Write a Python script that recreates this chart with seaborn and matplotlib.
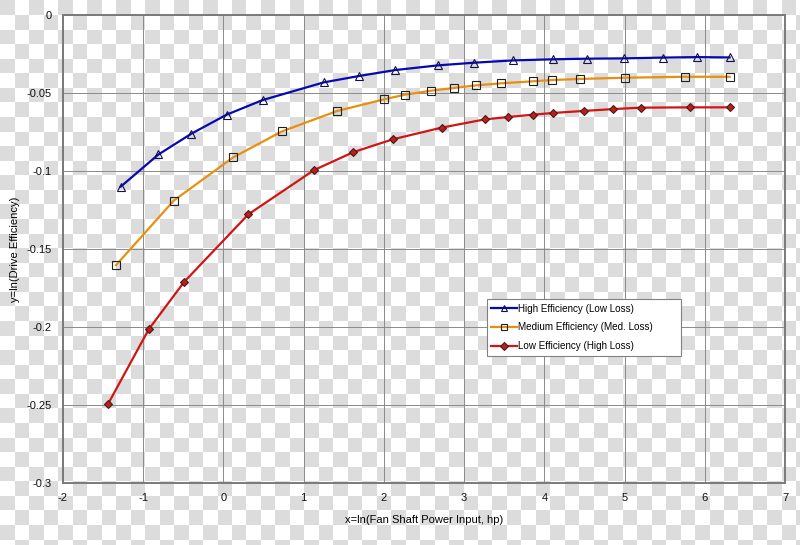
import numpy as np
import pandas as pd
import matplotlib
matplotlib.use("Agg")
import matplotlib.pyplot as plt
from matplotlib.ticker import FuncFormatter
import seaborn as sns

plt.rcParams['font.family'] = ['Liberation Sans', 'DejaVu Sans']
plt.rcParams['axes.unicode_minus'] = False

# data
blue_x = [-1.28, -0.81, -0.40, 0.04, 0.49, 1.25, 1.69, 2.14, 2.67, 3.12, 3.61, 4.11, 4.53, 4.99, 5.48, 5.90, 6.31]
blue_y = [-0.1100, -0.0894, -0.0761, -0.0639, -0.0545, -0.0432, -0.0391, -0.0353, -0.0323, -0.0306,
          -0.0291, -0.0284, -0.0280, -0.0278, -0.0273, -0.0270, -0.0272]
orange_x = [-1.34, -0.62, 0.12, 0.73, 1.42, 2.00, 2.26, 2.59, 2.87, 3.15, 3.46, 3.86, 4.10, 4.44, 5.01, 5.75, 6.31]
orange_y = [-0.1604, -0.1190, -0.0913, -0.0746, -0.0615, -0.0541, -0.0511, -0.0485, -0.0468, -0.0451,
            -0.0438, -0.0425, -0.0417, -0.0410, -0.0402, -0.0396, -0.0396]
red_x = [-1.44, -0.93, -0.49, 0.31, 1.13, 1.62, 2.11, 2.72, 3.26, 3.55, 3.86, 4.11, 4.49, 4.86, 5.20, 5.82, 6.31]
red_y = [-0.2495, -0.2014, -0.1711, -0.1278, -0.0994, -0.0879, -0.0797, -0.0722, -0.0669, -0.0654,
         -0.0639, -0.0628, -0.0615, -0.0603, -0.0594, -0.0592, -0.0592]

labels = ["High Efficiency (Low Loss)", "Medium Efficiency (Med. Loss)", "Low Efficiency (High Loss)"]
x_ticks = list(range(-2, 8))
y_ticks = [0, -0.05, -0.1, -0.15, -0.2, -0.25, -0.3]

fig = plt.figure(figsize=(8, 5.45), dpi=100)

# checkerboard backdrop (transparent png look)
h, w = 545, 800
yy, xx = np.mgrid[0:h, 0:w]
cells = ((xx // 14.47).astype(int) + (yy // 14.57).astype(int)) % 2 == 0
bg = np.ones((h, w, 3))
bg[cells] = 0.863
fig.figimage(bg, xo=0, yo=0, origin='upper', zorder=-10)
fig.patch.set_alpha(0)

ax = fig.add_axes([63 / 800, 62 / 545, 722 / 800, 468 / 545])
ax.set_zorder(1)
ax.patch.set_alpha(0)

series = [
    (blue_x, blue_y, "#0808b0", "^", "none", "#101050", 5.3),
    (orange_x, orange_y, "#e8900e", "s", "none", "#202020", 5.3),
    (red_x, red_y, "#d21414", "D", "#c41a1a", "#402020", 4.0),
]
for (xs, ys, col, mk, mfc, mec, ms), lab in zip(series, labels):
    df = pd.DataFrame({"x": xs, "y": ys})
    sns.lineplot(data=df, x="x", y="y", ax=ax, color=col, lw=1.6, sort=False,
                 marker=mk, markersize=ms, markerfacecolor=mfc, markeredgecolor=mec,
                 markeredgewidth=0.8, label=lab, zorder=3)

ax.set_xlim(-2, 7)
ax.set_ylim(-0.3, 0)
ax.set_xticks(x_ticks)
ax.set_yticks(y_ticks)
ax.yaxis.set_major_formatter(FuncFormatter(lambda v, p: "%g" % round(v, 3)))
ax.grid(True, color="#8a8a8a", lw=0.7)
ax.set_axisbelow(True)
ax.tick_params(length=0, labelsize=8, colors="#111111")
ax.tick_params(axis="x", pad=7)
ax.tick_params(axis="y", pad=8)
for s in ax.spines.values():
    s.set_color("#7a7a7a")
    s.set_linewidth(1.4)

ax.set_xlabel("x=ln(Fan Shaft Power Input, hp)", fontsize=8, labelpad=9)
ax.set_ylabel("y=ln(Drive Efficiency)", fontsize=8, labelpad=5)

leg = ax.legend(loc="upper left", bbox_to_anchor=(0.587, 0.271, 0.269, 0.122),
                mode="expand", borderaxespad=0,
                fontsize=7.1, frameon=True, fancybox=False, framealpha=1,
                edgecolor="#808080", handlelength=2.6, labelspacing=0.9,
                borderpad=0.45, handletextpad=0.1)
leg.get_frame().set_linewidth(0.8)
for hl in leg.get_lines():
    hl.set_markersize(4)

fig.savefig("out.png", dpi=100)
